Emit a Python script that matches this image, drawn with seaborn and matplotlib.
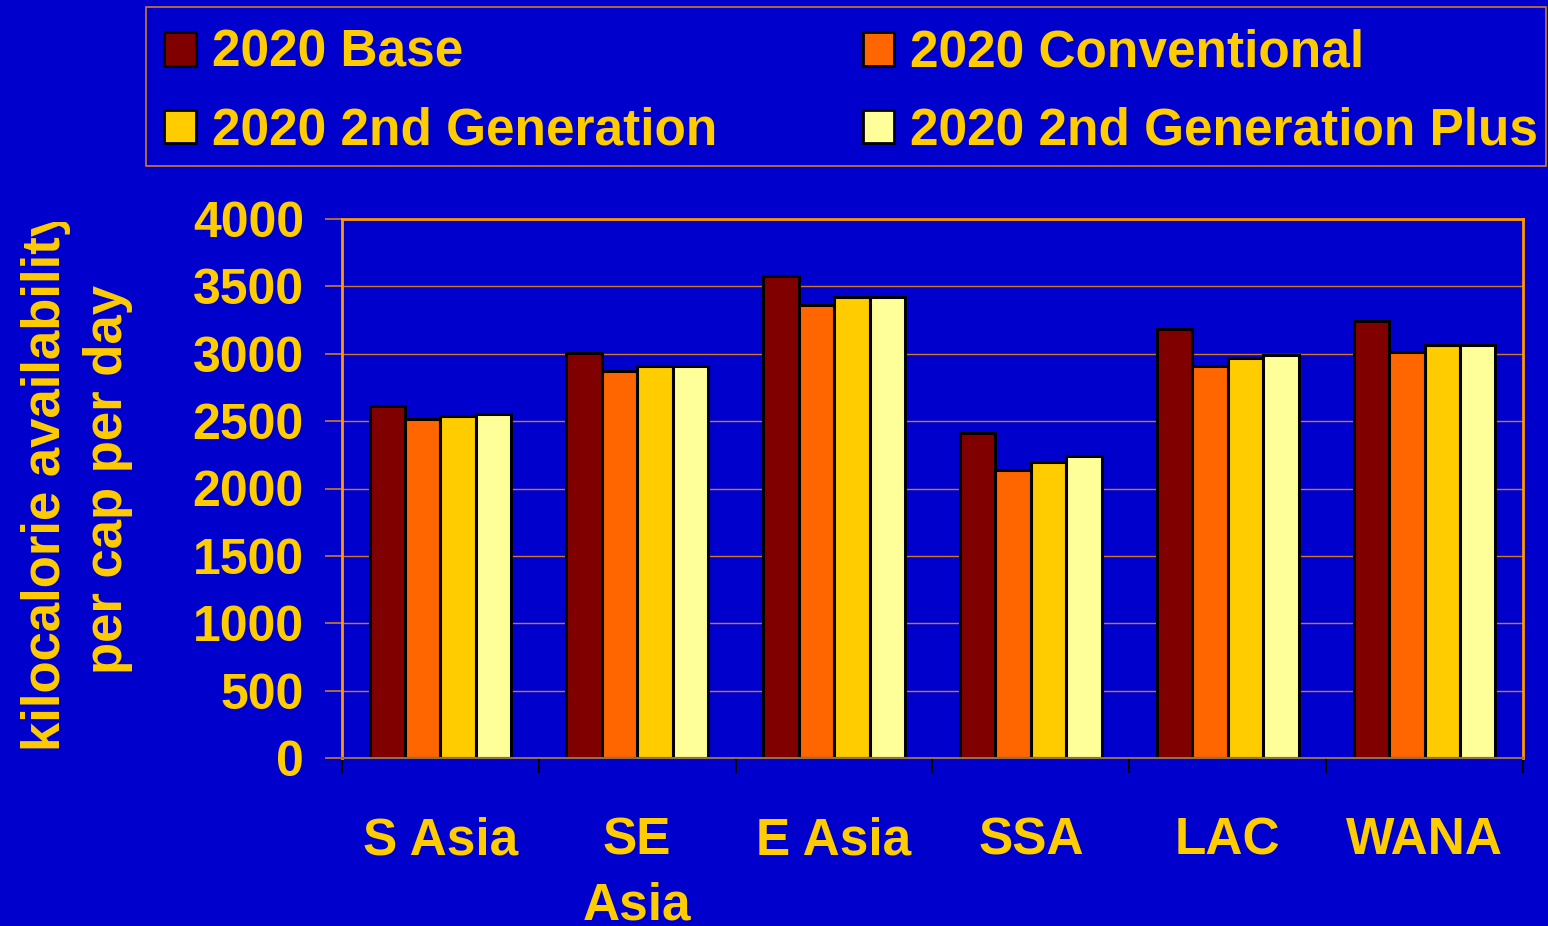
import matplotlib
matplotlib.use("Agg")
import matplotlib.pyplot as plt
from matplotlib.patches import Patch, Rectangle
from matplotlib.transforms import Bbox, TransformedBbox
import numpy as np
import pandas as pd
import seaborn as sns

regions = ["S Asia", "SE\nAsia", "E Asia", "SSA", "LAC", "WANA"]
scenarios = ["2020 Base", "2020 Conventional", "2020 2nd Generation", "2020 2nd Generation Plus"]
base = [2610, 3005, 3575, 2415, 3185, 3240]
conventional = [2515, 2870, 3360, 2140, 2910, 3010]
second_gen = [2535, 2910, 3420, 2200, 2970, 3065]
second_gen_plus = [2555, 2910, 3420, 2240, 2990, 3065]
y_ticks = [0, 500, 1000, 1500, 2000, 2500, 3000, 3500, 4000]

BG = "#0000cc"
TEXT = "#ffcc00"
COLORS = ["#800000", "#ff6600", "#ffcc00", "#ffff99"]
W, H = 1548, 926

df = pd.DataFrame({
    "region": regions * 4,
    "scenario": np.repeat(scenarios, len(regions)),
    "kcal": base + conventional + second_gen + second_gen_plus,
})

sns.set_style("white")
plt.rcParams["font.family"] = ["Liberation Sans", "DejaVu Sans"]
plt.rcParams["font.weight"] = "bold"

fig = plt.figure(figsize=(W / 100, H / 100), dpi=100, facecolor=BG)
ax = fig.add_axes([342 / W, 1 - 758 / H, (1523 - 342) / W, (758 - 219) / H])
ax.set_facecolor(BG)

sns.barplot(
    data=df, x="region", y="kcal", hue="scenario",
    order=regions, hue_order=scenarios, palette=COLORS, saturation=1,
    width=0.72, edgecolor="black", linewidth=2.2, ax=ax, legend=False,
)

ax.set_ylim(0, 4000)
ax.set_xlim(-0.5, len(regions) - 0.5)
ax.set_yticks(y_ticks)
ax.set_yticklabels([str(v) for v in y_ticks], fontsize=36, color=TEXT, fontweight="bold")
ax.tick_params(axis="y", direction="out", length=12, width=1.2, color="#cc7a29", pad=15.5, left=True)
ax.tick_params(axis="x", which="major", length=0, pad=42, labelsize=37, labelcolor=TEXT)
for lbl in ax.get_xticklabels():
    lbl.set_fontweight("bold")
    lbl.set_linespacing(1.42)
ax.set_xticks(np.arange(-0.5, len(regions)), minor=True)
ax.tick_params(axis="x", which="minor", length=11, width=1.5, color="black", bottom=True)

ax.set_xlabel("")
ax.set_ylabel("")
ax.grid(axis="y", color="#cc7a29", linewidth=1)
ax.set_axisbelow(True)
for side in ["left", "top", "right"]:
    ax.spines[side].set_color("#ff9900")
    ax.spines[side].set_linewidth(2)
ax.spines["bottom"].set_color("#8c7050")
ax.spines["bottom"].set_linewidth(1.5)

# y label, cut off at the top like the original
ylab = fig.text(
    77 / W, 1 - 479 / H, "kilocalorie availability\nper cap per day",
    rotation=90, ha="center", va="center", multialignment="center",
    fontsize=38, fontweight="bold", color=TEXT, linespacing=1.3,
)
ylab.set_clip_box(TransformedBbox(Bbox([[0, 0], [0.2, 1 - 222 / H]]), fig.transFigure))
ylab.set_clip_on(True)

# legend box drawn separately so its size matches the original
fig.add_artist(Rectangle(
    (146 / W, 1 - 166 / H), 1400 / W, 159 / H, transform=fig.transFigure,
    facecolor="none", edgecolor="#cc7a29", linewidth=1.2,
))
handles = [Patch(facecolor=c, edgecolor="black", linewidth=2) for c in COLORS]
order = [0, 2, 1, 3]
fig.legend(
    [handles[i] for i in order], [scenarios[i] for i in order],
    ncol=2, loc="upper left", bbox_to_anchor=(146 / W, 1 - 11 / H),
    prop={"size": 37, "weight": "bold"}, labelcolor=TEXT,
    handlelength=0.62, handleheight=0.62, handletextpad=0.31,
    columnspacing=2.83, labelspacing=0.56, borderpad=0.35,
    frameon=False, borderaxespad=0,
)

fig.savefig("out.png", dpi=100, facecolor=BG)
